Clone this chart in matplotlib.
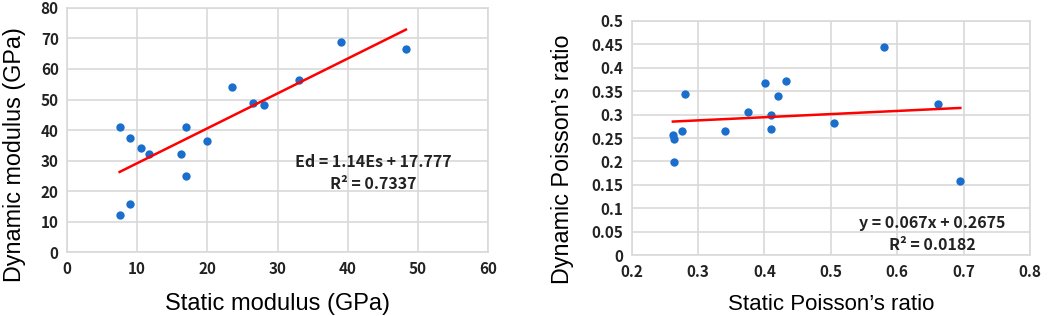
import numpy as np
import matplotlib.pyplot as plt

plt.rcParams['font.family'] = ['Noto Sans CJK SC', 'DejaVu Sans']

# static vs dynamic modulus (GPa)
es = [7.5, 8.95, 10.6, 11.7, 16.2, 17.0, 17.0, 20.0, 23.5, 26.5, 28.1, 33.0, 39.1, 48.3, 8.95, 7.6]
ed = [41.1, 37.4, 34.1, 32.2, 32.2, 41.1, 25.0, 36.5, 54.2, 49.0, 48.1, 56.3, 68.9, 66.6, 16.0, 12.4]
fit_mod = (1.14, 17.777)

# static vs dynamic Poisson's ratio
vs = [0.262, 0.264, 0.264, 0.276, 0.280, 0.341, 0.375, 0.401, 0.410, 0.410, 0.420, 0.432, 0.505, 0.580, 0.662, 0.695]
vd = [0.257, 0.247, 0.199, 0.266, 0.343, 0.264, 0.305, 0.368, 0.298, 0.270, 0.339, 0.371, 0.282, 0.443, 0.322, 0.159]
fit_poi = (0.067, 0.2675)

blue = '#1a6fcc'
red = '#ff0000'
grid_c = '#d9d9d9'
lab_font = ['Liberation Sans', 'DejaVu Sans']

fig = plt.figure(figsize=(10.52, 3.16), dpi=100)
ax1 = fig.add_axes([0.0637, 0.201, 0.4002, 0.7746])
ax2 = fig.add_axes([0.6005, 0.192, 0.3786, 0.7425])


def style(ax):
    ax.grid(True, color=grid_c, linewidth=1.2)
    ax.set_axisbelow(True)
    for s in ax.spines.values():
        s.set_color(grid_c)
        s.set_linewidth(1.2)
    ax.tick_params(length=0, labelsize=11, pad=6, colors='#222222')
    for lab in ax.get_xticklabels() + ax.get_yticklabels():
        lab.set_fontweight('bold')


ax1.scatter(es, ed, s=36, color=blue, zorder=3, linewidths=0)
xf = np.array([min(es), max(es)])
ax1.plot(xf, fit_mod[0] * xf + fit_mod[1], color=red, linewidth=1.8, zorder=4)
ax1.set_xlim(0, 60)
ax1.set_ylim(0, 80)
ax1.set_xticks(np.arange(0, 61, 10))
ax1.set_yticks(np.arange(0, 81, 10))
style(ax1)
ax1.set_xlabel('Static modulus (GPa)', family=lab_font, fontsize=17, labelpad=12)
ax1.set_ylabel('Dynamic modulus (GPa)', family=lab_font, fontsize=16.8)
ax1.yaxis.set_label_coords(-0.098, 0.40)
ax1.text(0.727, 0.37, 'Ed = 1.14Es + 17.777', transform=ax1.transAxes,
         ha='center', va='center', fontsize=11.5, fontweight='bold', color='#222222')
ax1.text(0.727, 0.28, 'R² = 0.7337', transform=ax1.transAxes,
         ha='center', va='center', fontsize=11.5, fontweight='bold', color='#222222')

ax2.scatter(vs, vd, s=36, color=blue, zorder=3, linewidths=0)
xf = np.array([min(vs), max(vs)])
ax2.plot(xf, fit_poi[0] * xf + fit_poi[1], color=red, linewidth=1.8, zorder=4)
ax2.set_xlim(0.2, 0.8)
ax2.set_ylim(0, 0.5)
ax2.set_xticks(np.arange(0.2, 0.81, 0.1))
ax2.set_yticks(np.arange(0, 0.51, 0.05))
ax2.set_xticklabels(['0.2', '0.3', '0.4', '0.5', '0.6', '0.7', '0.8'])
ax2.set_yticklabels(['0', '0.05', '0.1', '0.15', '0.2', '0.25', '0.3', '0.35', '0.4', '0.45', '0.5'])
style(ax2)
ax2.set_xlabel('Static Poisson’s ratio', family=lab_font, fontsize=16, labelpad=10)
ax2.set_ylabel('Dynamic Poisson’s ratio', family=lab_font, fontsize=16.8)
ax2.yaxis.set_label_coords(-0.145, 0.41)
ax2.text(0.754, 0.138, 'y = 0.067x + 0.2675', transform=ax2.transAxes,
         ha='center', va='center', fontsize=11.5, fontweight='bold', color='#222222')
ax2.text(0.754, 0.044, 'R² = 0.0182', transform=ax2.transAxes,
         ha='center', va='center', fontsize=11.5, fontweight='bold', color='#222222')

fig.savefig('out.png', dpi=100)
